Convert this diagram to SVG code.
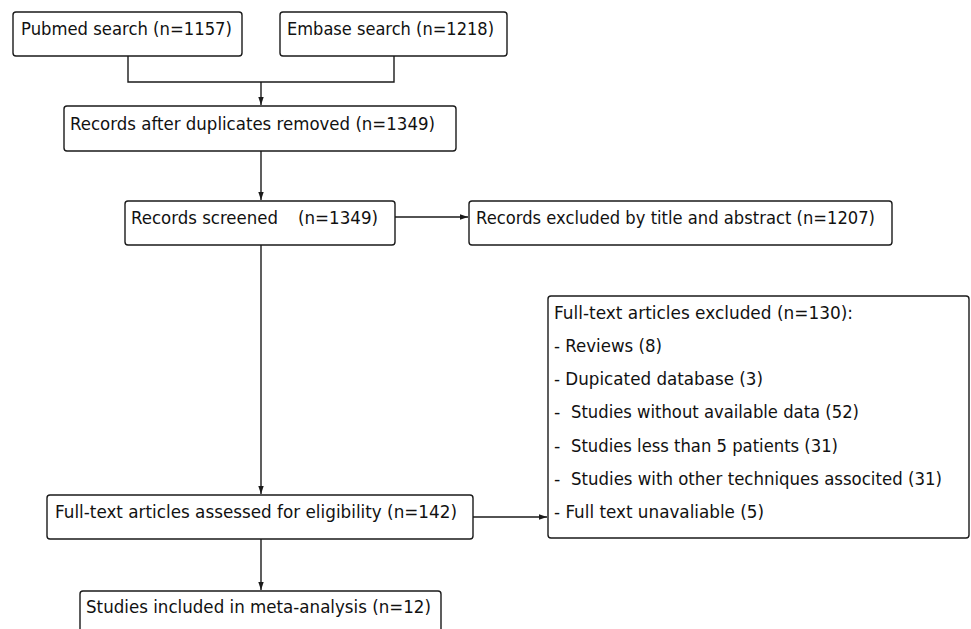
<svg xmlns="http://www.w3.org/2000/svg" width="971" height="629" viewBox="0 0 971 629">
<style>
.box{fill:#fff;stroke:#1a1a1a;stroke-width:1.4}
.t{font-family:"DejaVu Sans","Liberation Sans",sans-serif;font-size:17.5px;fill:#111}
.ln{fill:none;stroke:#1a1a1a;stroke-width:1.4}
</style>
<defs>
<marker id="ah" markerUnits="userSpaceOnUse" markerWidth="9" markerHeight="7" refX="8" refY="3.5" orient="auto">
<path d="M0,0.8 L8,3.5 L0,6.2 z" fill="#1a1a1a"/>
</marker>
</defs>
<rect width="971" height="629" fill="#fff"/>
<g id="connectors">
<path class="ln" d="M128,56 V82 H394 V56"/>
<path class="ln" d="M261,82 V105" marker-end="url(#ah)"/>
<path class="ln" d="M261,151 V200" marker-end="url(#ah)"/>
<path class="ln" d="M395,217 H468" marker-end="url(#ah)"/>
<path class="ln" d="M261,245 V494" marker-end="url(#ah)"/>
<path class="ln" d="M473,517 H547" marker-end="url(#ah)"/>
<path class="ln" d="M261,539 V590" marker-end="url(#ah)"/>
</g>
<g id="pubmed">
<rect class="box" x="13" y="12" width="229" height="44" rx="3"/>
<text class="t" x="21" y="35" textLength="211" lengthAdjust="spacingAndGlyphs">Pubmed search (n=1157)</text>
</g>
<g id="embase">
<rect class="box" x="280" y="12" width="227" height="44" rx="3"/>
<text class="t" x="287" y="35" textLength="207" lengthAdjust="spacingAndGlyphs">Embase search (n=1218)</text>
</g>
<g id="duplicates">
<rect class="box" x="64" y="106" width="392" height="45" rx="3"/>
<text class="t" x="70" y="130" textLength="365" lengthAdjust="spacingAndGlyphs">Records after duplicates removed (n=1349)</text>
</g>
<g id="screened">
<rect class="box" x="125" y="201" width="270" height="44" rx="3"/>
<text class="t" x="131" y="224"><tspan textLength="147" lengthAdjust="spacingAndGlyphs">Records screened</tspan><tspan x="298" textLength="80" lengthAdjust="spacingAndGlyphs">(n=1349)</tspan></text>
</g>
<g id="excluded-title">
<rect class="box" x="469" y="201" width="423" height="44" rx="3"/>
<text class="t" x="476" y="224" textLength="399" lengthAdjust="spacingAndGlyphs">Records excluded by title and abstract (n=1207)</text>
</g>
<g id="excluded-fulltext">
<rect class="box" x="548" y="296" width="421" height="242" rx="3"/>
<text class="t" x="554" y="319" textLength="299" lengthAdjust="spacingAndGlyphs">Full-text articles excluded (n=130):</text>
<text class="t" x="554" y="352" textLength="108" lengthAdjust="spacingAndGlyphs">- Reviews (8)</text>
<text class="t" x="554" y="385" textLength="209" lengthAdjust="spacingAndGlyphs">- Dupicated database (3)</text>
<text class="t" x="554" y="418"><tspan>- </tspan><tspan x="571" textLength="288" lengthAdjust="spacingAndGlyphs">Studies without available data (52)</tspan></text>
<text class="t" x="554" y="452"><tspan>- </tspan><tspan x="571" textLength="267" lengthAdjust="spacingAndGlyphs">Studies less than 5 patients (31)</tspan></text>
<text class="t" x="554" y="485"><tspan>- </tspan><tspan x="571" textLength="371" lengthAdjust="spacingAndGlyphs">Studies with other techniques associted (31)</tspan></text>
<text class="t" x="554" y="518" textLength="210" lengthAdjust="spacingAndGlyphs">- Full text unavaliable (5)</text>
</g>
<g id="assessed">
<rect class="box" x="47" y="495" width="426" height="44" rx="3"/>
<text class="t" x="55" y="518" textLength="402" lengthAdjust="spacingAndGlyphs">Full-text articles assessed for eligibility (n=142)</text>
</g>
<g id="included">
<rect class="box" x="80" y="591" width="361" height="50" rx="3"/>
<text class="t" x="86" y="613" textLength="345" lengthAdjust="spacingAndGlyphs">Studies included in meta-analysis (n=12)</text>
</g>
</svg>
